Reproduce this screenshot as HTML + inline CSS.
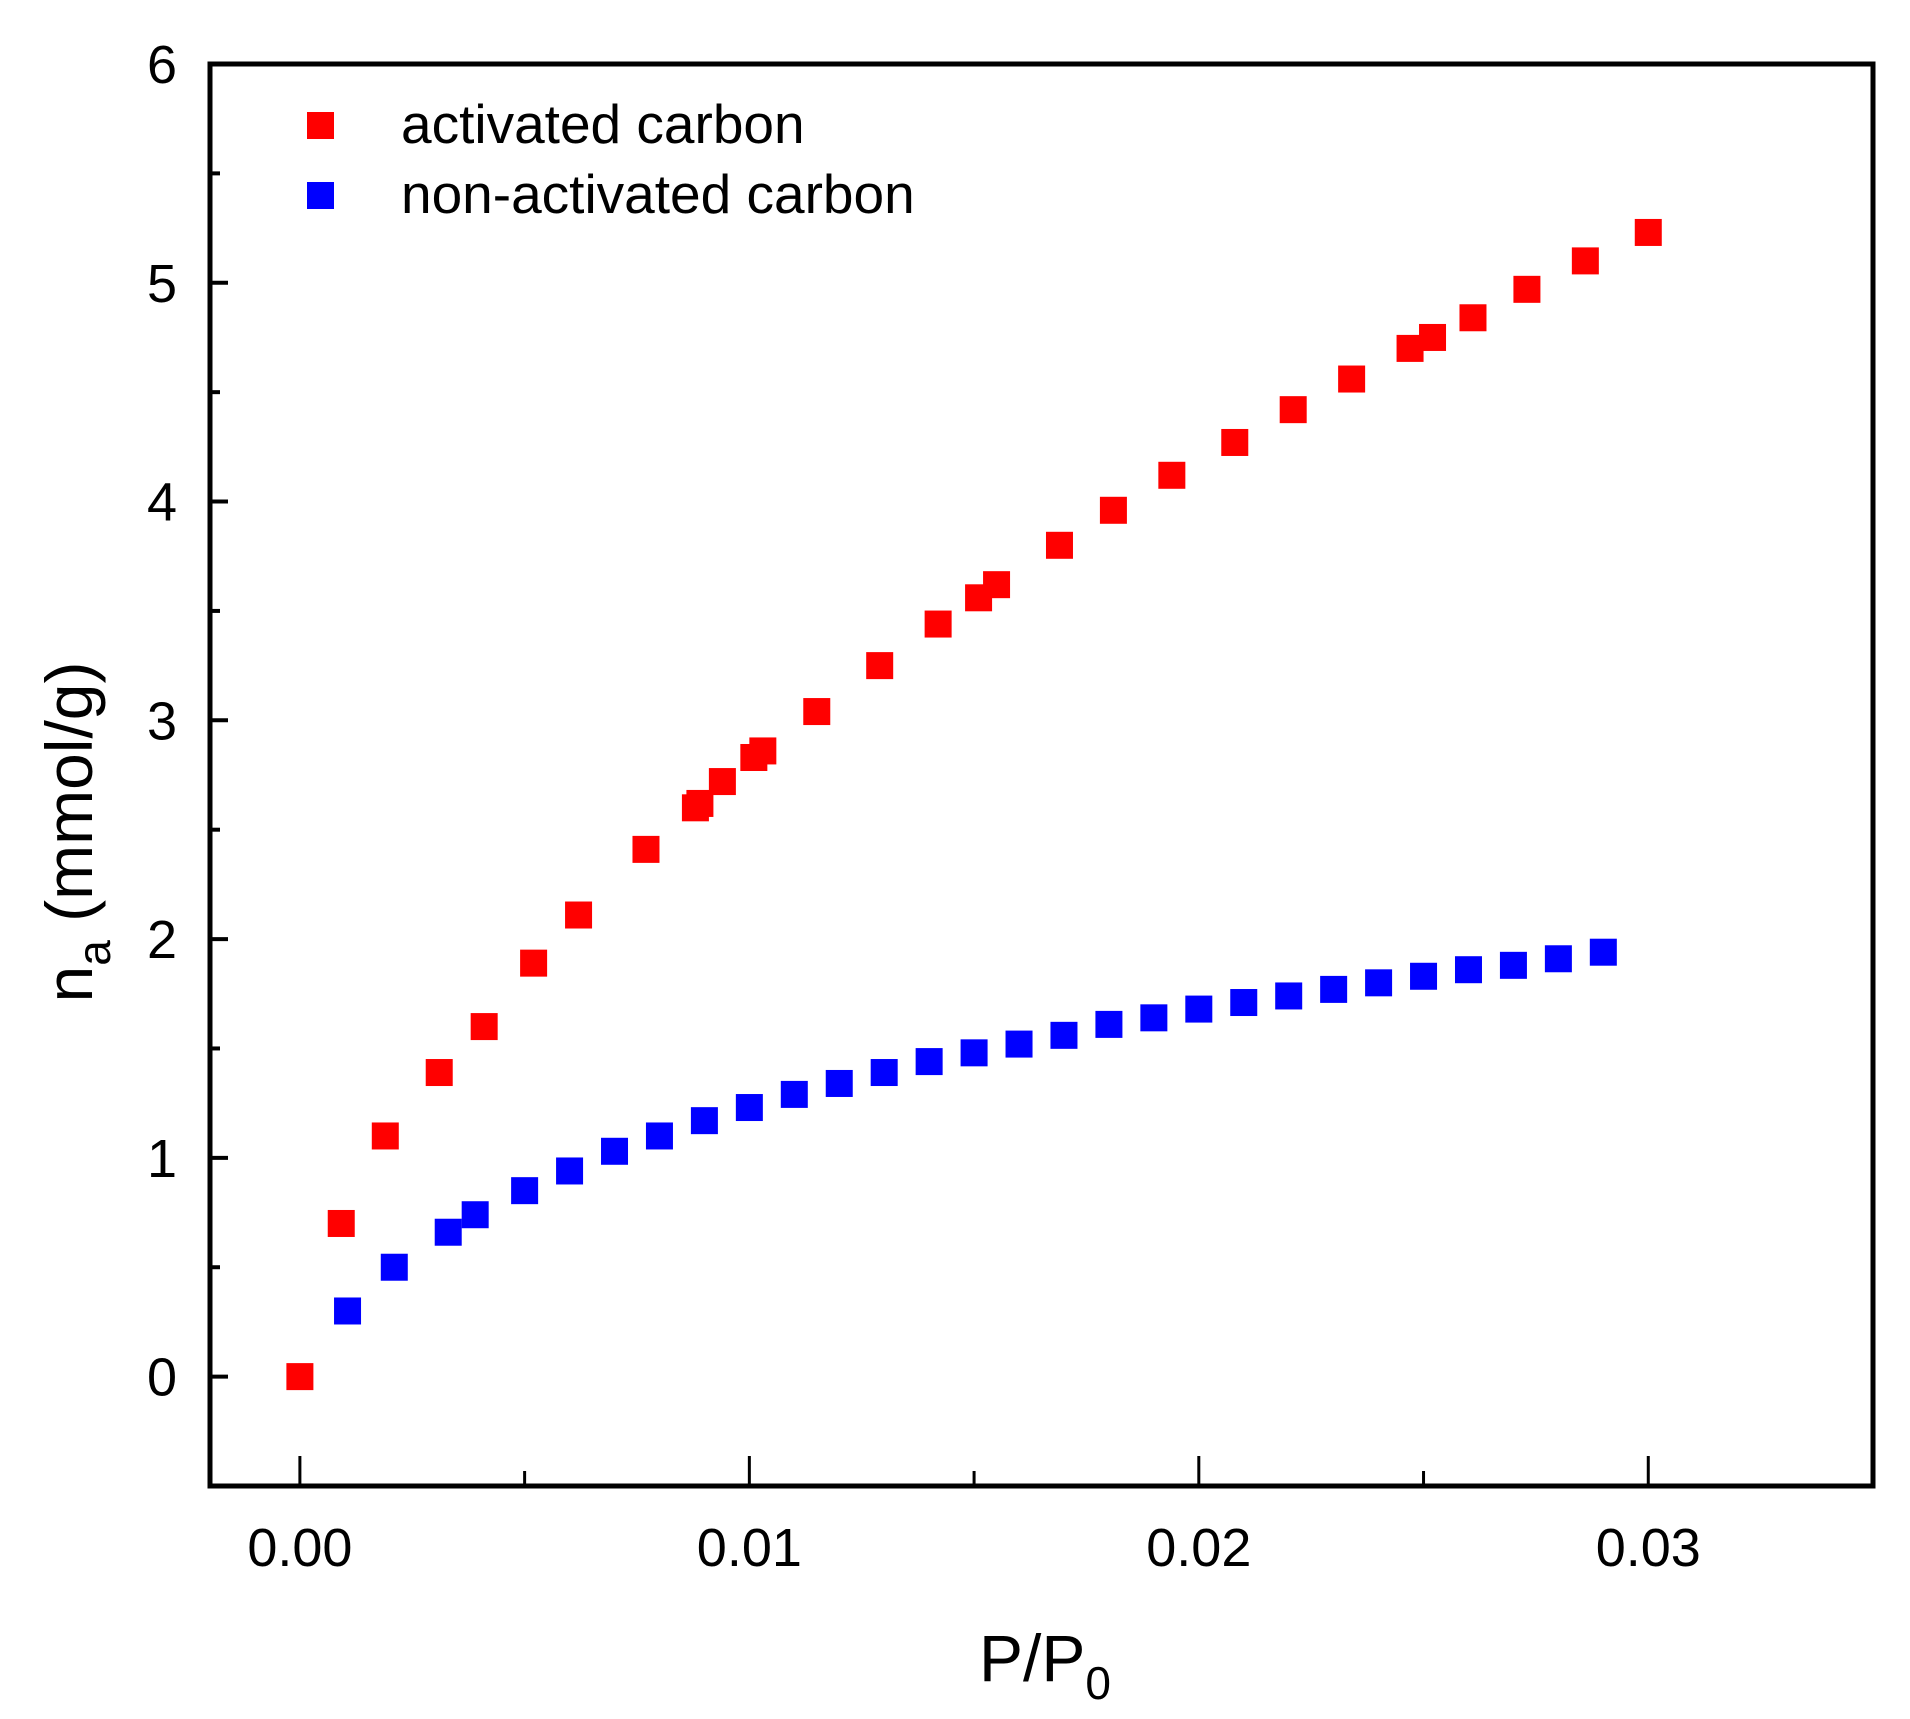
<!DOCTYPE html>
<html><head><meta charset="utf-8"><style>
html,body{margin:0;padding:0;background:#fff}
svg{display:block;font-family:"Liberation Sans",Arial,sans-serif}
</style></head><body>
<svg id="chart" width="1910" height="1719" viewBox="0 0 1910 1719">
<g id="ticks"></g>
<g id="marks"></g>
<rect x="210" y="64" width="1663" height="1422" fill="none" stroke="#000" stroke-width="5"/>
<text x="1045" y="1681" font-size="66" text-anchor="middle">P/P<tspan font-size="46" dy="18">0</tspan></text>
<text transform="translate(92,832) rotate(-90)" font-size="66" text-anchor="middle">n<tspan font-size="46" dy="18">a</tspan><tspan dy="-18"> (mmol/g)</tspan></text>
<rect x="307" y="112" width="27" height="27" fill="#ff0000"/>
<text x="401" y="143" font-size="55">activated carbon</text>
<rect x="307" y="182" width="27" height="27" fill="#0000ff"/>
<text x="401" y="213" font-size="55">non-activated carbon</text>
</svg>
<script>
const redX=[0,0.00092,0.0019,0.0031,0.0041,0.0052,0.0062,0.0077,0.0088,0.0089,0.0094,0.0101,0.0103,0.0115,0.0129,0.0142,0.0151,0.0155,0.0169,0.0181,0.0194,0.0208,0.0221,0.0234,0.0247,0.0252,0.0261,0.0273,0.0286,0.0300];
const redY=[0,0.70,1.10,1.39,1.60,1.89,2.11,2.41,2.60,2.62,2.72,2.83,2.86,3.04,3.25,3.44,3.56,3.62,3.80,3.96,4.12,4.27,4.42,4.56,4.70,4.75,4.84,4.97,5.10,5.23];
const blueX=[0.00106,0.0021,0.0033,0.0039,0.005,0.006,0.007,0.008,0.009,0.01,0.011,0.012,0.013,0.014,0.015,0.016,0.017,0.018,0.019,0.02,0.021,0.022,0.023,0.024,0.025,0.026,0.027,0.028,0.029];
const blueY=[0.30,0.50,0.66,0.74,0.85,0.94,1.03,1.10,1.17,1.23,1.29,1.34,1.39,1.44,1.48,1.52,1.56,1.61,1.64,1.68,1.71,1.74,1.77,1.80,1.83,1.86,1.88,1.91,1.94];
const xTicks=[0,0.01,0.02,0.03];
const xTickLabels=["0.00","0.01","0.02","0.03"];
const yTicks=[0,1,2,3,4,5,6];
const yTickLabels=["0","1","2","3","4","5","6"];
const NS="http://www.w3.org/2000/svg";
const L=210,R=1873,T=64,B=1486,xMin=-0.002,xMax=0.035,yMin=-0.5,yMax=6;
function sx(v){return L+(v-xMin)/(xMax-xMin)*(R-L);}
function sy(v){return B-(v-yMin)/(yMax-yMin)*(B-T);}
function mk(tag,attrs,parent){const e=document.createElementNS(NS,tag);for(const k in attrs)e.setAttribute(k,attrs[k]);parent.appendChild(e);return e;}
const tg=document.getElementById('ticks'),mg=document.getElementById('marks');
xTicks.forEach((v,i)=>{
  const l=mk('line',{x1:sx(v),x2:sx(v),y1:B,y2:B-30,stroke:'#000','stroke-width':3},tg);
  
  
  const t=mk('text',{x:sx(v),y:1566,'font-size':54,'text-anchor':'middle'},tg);
  t.textContent=xTickLabels[i];
  
  
  if(i<xTicks.length-1){
    const m=mk('line',{x1:sx(v+0.005),x2:sx(v+0.005),y1:B,y2:B-15,stroke:'#000','stroke-width':3},tg);
    
    
  }
});
yTicks.forEach((v,i)=>{
  const l=mk('line',{x1:L,x2:L+18,y1:sy(v),y2:sy(v),stroke:'#000','stroke-width':4},tg);
  
  
  const t=mk('text',{x:177,y:sy(v)+19,'font-size':54,'text-anchor':'end'},tg);
  t.textContent=yTickLabels[i];
  
  
  const m=mk('line',{x1:L,x2:L+10,y1:sy(v-0.5),y2:sy(v-0.5),stroke:'#000','stroke-width':4},tg);
  
  
});
const S=27;
redX.forEach((x,i)=>{
  const r=mk('rect',{x:sx(x)-S/2,y:sy(redY[i])-S/2,width:S,height:S,fill:'#ff0000'},mg);
  
  
});
blueX.forEach((x,i)=>{
  const r=mk('rect',{x:sx(x)-S/2,y:sy(blueY[i])-S/2,width:S,height:S,fill:'#0000ff'},mg);
  
  
});
</script>
</body></html>
